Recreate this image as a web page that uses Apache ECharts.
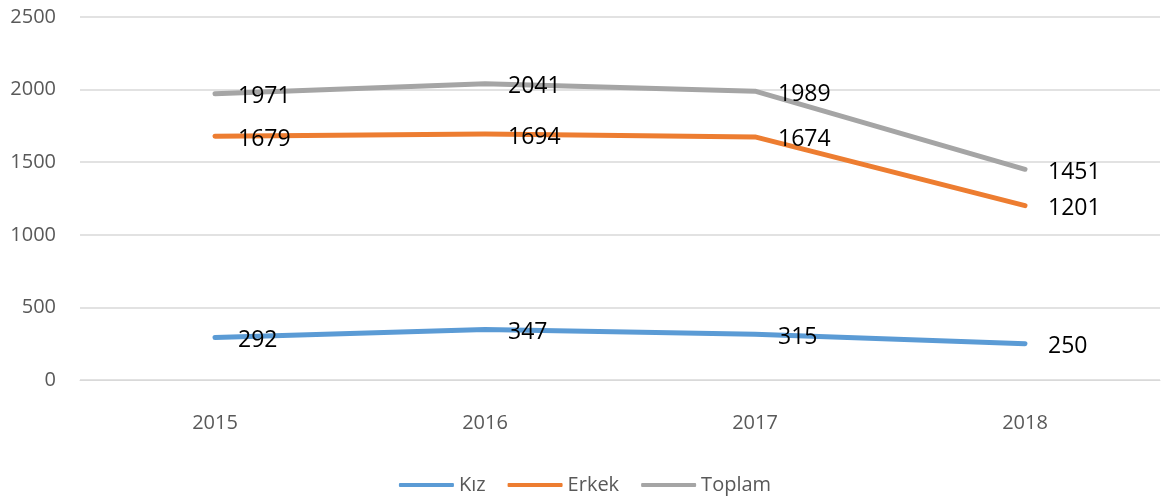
<!DOCTYPE html>
<html>
<head>
<meta charset="utf-8">
<script src="https://cdn.jsdelivr.net/npm/echarts@6/dist/echarts.min.js"></script>
<style>
  html, body { margin: 0; padding: 0; background: #fff; }
  #chart { width: 1170px; height: 497px; }
</style>
</head>
<body>
<div id="chart"></div>
<script>
// yıllar
var years = ['2015', '2016', '2017', '2018']
// seriler
var kiz = [292, 347, 315, 250]
var erkek = [1679, 1694, 1674, 1201]
var toplam = [1971, 2041, 1989, 1451]

var chart = echarts.init(document.getElementById('chart'))

function makeSeries(name, data, color) {
  return {
    name: name,
    type: 'line',
    data: data,
    symbol: 'circle',
    symbolSize: 2,
    itemStyle: { color: color },
    lineStyle: { width: 5, color: color, cap: 'round', join: 'round' },
    label: {
      show: true,
      position: 'right',
      distance: 22,
      offset: [0, 3],
      color: '#000',
      fontFamily: 'Open Sans',
      fontSize: 23
    },
    emphasis: { disabled: true },
    animation: false
  }
}

var options = {
  grid: {
    left: 80,
    right: 10,
    top: 17,
    bottom: 117
  },
  legend: {
    top: 470,
    left: 'center',
    icon: 'roundRect',
    itemWidth: 55,
    itemHeight: 4,
    itemGap: 22,
    textStyle: {
      color: '#595959',
      fontFamily: 'Open Sans',
      fontSize: 20
    },
    data: ['Kız', 'Erkek', 'Toplam']
  },
  xAxis: {
    type: 'category',
    data: years,
    boundaryGap: true,
    axisTick: { show: false },
    axisLine: { lineStyle: { color: '#D9D9D9', width: 1 } },
    axisLabel: {
      color: '#595959',
      fontFamily: 'Open Sans',
      fontSize: 20,
      margin: 33
    }
  },
  yAxis: {
    type: 'value',
    min: 0,
    max: 2500,
    interval: 500,
    axisLine: { show: false },
    axisTick: { show: false },
    axisLabel: {
      color: '#595959',
      fontFamily: 'Open Sans',
      fontSize: 20,
      margin: 24,
      formatter: function (value) {
        return String(value)
      }
    },
    splitLine: { lineStyle: { color: '#D9D9D9', width: 1.5 } }
  },
  series: [
    makeSeries('Kız', kiz, '#5B9BD5'),
    makeSeries('Erkek', erkek, '#ED7D31'),
    makeSeries('Toplam', toplam, '#A5A5A5')
  ]
}

chart.setOption(options)
</script>
</body>
</html>
